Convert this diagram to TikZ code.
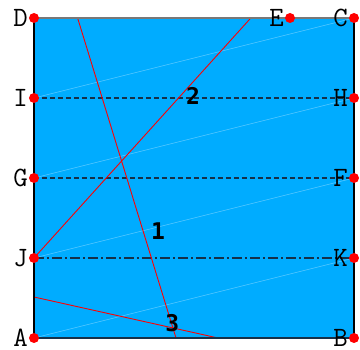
\documentclass[tikz,border=0pt]{standalone}
\usepackage{fontspec}
\usepackage{tikz}
\usetikzlibrary{positioning}
\newfontfamily\digitfont{DejaVu Sans Mono}
\definecolor{paper}{RGB}{0,172,255}
\definecolor{crease}{RGB}{22,48,72}
\definecolor{rim}{RGB}{120,120,120}
\tikzset{
  pt/.style={circle, fill=red, inner sep=0pt, minimum size=10pt},
  lbl/.style={font=\ttfamily\fontsize{28}{28}\selectfont, inner sep=0pt},
  num/.style={font=\digitfont\bfseries\fontsize{23}{23}\selectfont, inner sep=0pt},
  fold/.style={draw=red, line width=0.9pt},
  valley/.style={draw=crease, line width=1.2pt, dash pattern=on 5pt off 3pt},
  mountain/.style={draw=crease, line width=1.2pt, dash pattern=on 10pt off 3pt on 2pt off 3pt},
  faint/.style={draw=white, opacity=0.35, line width=0.5pt}
}
\begin{document}
\begin{tikzpicture}[x=40pt, y=40pt]
  \useasboundingbox (-0.85,-0.3) rectangle (8.15,8.45);
  % corners and side points
  \coordinate (A) at (0,0);   \coordinate (B) at (8,0);
  \coordinate (C) at (8,8);   \coordinate (D) at (0,8);
  \coordinate (E) at (6.4,8);
  \coordinate (I) at (0,6);   \coordinate (H) at (8,6);
  \coordinate (G) at (0,4);   \coordinate (F) at (8,4);
  \coordinate (J) at (0,2);   \coordinate (K) at (8,2);
  % ends of the red folds
  \coordinate (t1) at (1.09,8); \coordinate (b1) at (3.55,0);
  \coordinate (t2) at (5.42,8);
  \coordinate (l3) at (0,1.025); \coordinate (b3) at (4.6,0);

  \fill[paper] (A) rectangle (C);
  \draw[faint] (A) -- (K);
  \draw[faint] (J) -- (F);
  \draw[faint] (G) -- (H);
  \draw[faint] (I) -- (C);
  \draw[valley] (I) -- (H);
  \draw[valley] (G) -- (F);
  \draw[mountain] (J) -- (K);
  \draw[fold] (t1) -- (b1);
  \draw[fold] (J) -- (t2);
  \draw[fold] (l3) -- (b3);
  \draw[black, line width=1.3pt] (A) -- (D);
  \draw[black, line width=1.3pt] (B) -- (C);
  \draw[rim, line width=1.3pt] (D) -- (C);
  \draw[crease, line width=1.3pt] (A) -- (B);

  \foreach \p in {A,B,C,D,E,F,G,H,I,J,K} {
    \node[pt] (dot\p) at (\p) {};
    \node[lbl, left=6pt of \p] (lbl\p) {\p};
  }
  \node[num] (n1) at (3.1,2.66) {1};
  \node[num] (n2) at (3.975,6.04) {2};
  \node[num] (n3) at (3.46,0.375) {3};
\end{tikzpicture}
\end{document}
